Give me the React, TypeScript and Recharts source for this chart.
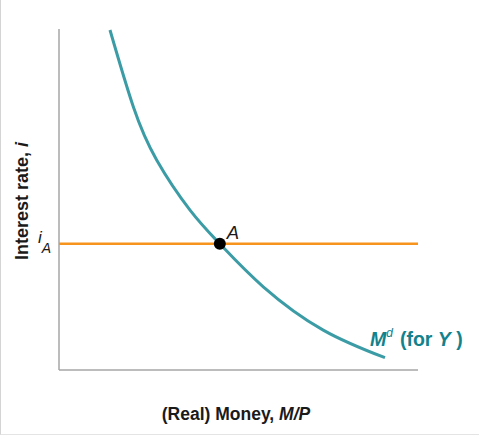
import React from 'react';
import { ComposedChart, Line, Scatter, XAxis, YAxis, Label, ReferenceDot } from 'recharts';

// money demand curve Md (for Y) (0..100 both axes)
const demandMoney = [14.2, 20.7, 27.2, 36.5, 44.8, 56.9, 73.6, 90.8];
const demandRate = [99.7, 77.2, 61.6, 46.9, 37.0, 24.4, 11.7, 3.6];

// interest rate iA, horizontal line across the plot
const rateA = 37.0;
const rateLineX = [0, 100];
const pointA = { x: 44.8, y: 37.0 };

const TEAL = '#3c9ca6';
const TEAL_TEXT = '#13828c';
const ORANGE = '#f7941d';
const AXIS = '#a6a6a6';
const FONT = '"Liberation Sans", Arial, Helvetica, sans-serif';

if (typeof document !== 'undefined') document.body.style.margin = '0';

const demandData = demandMoney.map((x, i) => ({ x, y: demandRate[i] }));
const rateData = rateLineX.map(x => ({ x, y: rateA }));

export default function App() {
    return (
        <div style={{ width: 479, height: 435, position: 'relative', boxSizing: 'border-box', borderLeft: '1px solid #d4d4d4', borderBottom: '1px solid #e4e4e4', background: '#fff' }}>
            <div style={{ position: 'absolute', left: -1, top: 0 }}>
                <ComposedChart width={479} height={435} margin={{ top: 29, right: 61, left: 0, bottom: 0 }}>
                    <XAxis type="number" dataKey="x" domain={[0, 100]} height={65} tick={false} tickLine={false}
                        axisLine={{ stroke: AXIS, strokeWidth: 1.5 }}>
                        <Label content={() => (
                            <text x={236} y={420} textAnchor="middle" fontFamily={FONT} fontWeight="bold" fontSize={17.5} fill="#1a1a1a">
                                (Real) Money, <tspan fontStyle="italic">M/P</tspan>
                            </text>
                        )} />
                    </XAxis>
                    <YAxis type="number" dataKey="y" domain={[0, 100]} width={59} ticks={[rateA]} tickLine={false}
                        axisLine={{ stroke: AXIS, strokeWidth: 1.5 }}
                        tick={({ y }: any) => (
                            <text x={38} y={y - 1} fontFamily={FONT} fontSize={17} fontStyle="italic" fill="#1a1a1a">
                                i<tspan dx={0} dy={10} fontSize={14}>A</tspan>
                            </text>
                        )}>
                        <Label content={() => (
                            <text x={28} y={201} transform="rotate(-90 28 201)" textAnchor="middle" fontFamily={FONT} fontWeight="bold" fontSize={18} fill="#1a1a1a">
                                Interest rate, <tspan fontStyle="italic">i</tspan>
                            </text>
                        )} />
                    </YAxis>
                    <Line data={rateData} dataKey="y" type="linear" stroke={ORANGE} strokeWidth={2.5} dot={false} isAnimationActive={false} />
                    <Line data={demandData} dataKey="y" type="natural" stroke={TEAL} strokeWidth={3} dot={false} isAnimationActive={false} />
                    <Scatter data={[pointA]} dataKey="y" fill="#000" shape={(p: any) => <circle cx={p.cx} cy={p.cy} r={6} fill="#000" />} isAnimationActive={false} />
                    <ReferenceDot x={pointA.x} y={pointA.y} r={0} stroke="none"
                        label={({ viewBox }: any) => (
                            <text x={viewBox.x + 7} y={viewBox.y - 5} fontFamily={FONT} fontSize={18.5} fontStyle="italic" fill="#1a1a1a">A</text>
                        )} />
                    <ReferenceDot x={demandMoney[demandMoney.length - 1]} y={demandRate[demandRate.length - 1]} r={0} stroke="none"
                        label={({ viewBox }: any) => (
                            <text x={viewBox.x - 15} y={viewBox.y - 12} fontFamily={FONT} fontSize={19.5} fontWeight="bold" fill={TEAL_TEXT}>
                                <tspan fontStyle="italic">M</tspan>
                                <tspan dy={-9} fontSize={12} fontWeight="normal" fontStyle="italic">d</tspan>
                                <tspan dy={9} dx={7}>(for </tspan>
                                <tspan fontStyle="italic">Y</tspan>
                                <tspan> )</tspan>
                            </text>
                        )} />
                </ComposedChart>
            </div>
        </div>
    );
}
